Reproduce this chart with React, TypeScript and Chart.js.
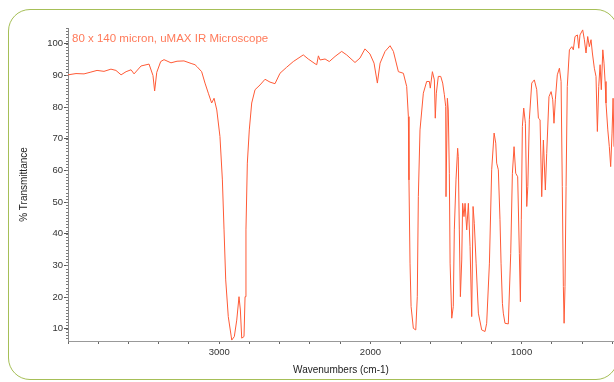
import { useEffect, useRef } from "react";
import { Chart, registerables } from "chart.js";

Chart.register(...registerables);

const chartTitle = "80 x 140 micron, uMAX IR Microscope";
const xAxisTitle = "Wavenumbers (cm-1)";
const yAxisTitle = "% Transmittance";
const xTickLabels = [1000, 2000, 3000];
const yTickLabels = [10, 20, 30, 40, 50, 60, 70, 80, 90, 100];

const wavenumbers = [
  4000, 3947, 3894, 3854, 3808, 3762, 3716, 3683, 3649, 3616, 3583, 3563, 3517, 3464, 3438, 3427, 3413, 3387, 3365, 3319,
  3279, 3233, 3186, 3160, 3147, 3116, 3094, 3072, 3050, 3034, 3016, 2995, 2979, 2968, 2957, 2940, 2917, 2900, 2884, 2869,
  2860, 2851, 2836, 2829, 2823, 2814, 2801, 2785, 2763, 2730, 2697, 2664, 2631, 2598, 2554, 2510, 2444, 2411, 2366, 2355,
  2344, 2333, 2300, 2272, 2234, 2190, 2157, 2102, 2069, 2036, 2003, 1976, 1954, 1936, 1903, 1870, 1848, 1815, 1782, 1760,
  1749, 1745, 1738, 1731, 1716, 1700, 1690, 1683, 1672, 1650, 1628, 1610, 1604, 1590, 1577, 1571, 1564, 1551, 1535, 1522,
  1511, 1502, 1500, 1491, 1485, 1478, 1473, 1462, 1452, 1445, 1434, 1423, 1419, 1412, 1405, 1396, 1390, 1381, 1374, 1363,
  1352, 1341, 1330, 1321, 1313, 1301, 1286, 1264, 1242, 1231, 1213, 1198, 1182, 1171, 1165, 1154, 1143, 1136, 1127, 1121,
  1110, 1088, 1072, 1061, 1050, 1039, 1026, 1015, 1008, 1002, 995, 986, 975, 966, 959, 949, 933, 916, 900, 889,
  878, 867, 856, 843, 834, 819, 805, 794, 786, 777, 764, 750, 739, 731, 724, 719, 713, 706, 698, 684,
  668, 658, 647, 631, 622, 614, 596, 585, 574, 563, 552, 541, 532, 519, 508, 499, 490, 481, 473, 463,
  455, 448, 442, 430, 420, 411, 402, 395, 389,
];

const transmittance = [
  90.2, 90.6, 90.5, 91.0, 91.6, 91.3, 92.0, 91.6, 90.2, 91.2, 91.8, 90.5, 93.0, 93.6, 90.0, 85.1, 91.0, 94.4, 95.0, 94.0,
  94.5, 94.6, 93.8, 93.4, 92.8, 91.2, 87.6, 84.4, 81.3, 82.8, 79.1, 70.7, 57.0, 41.2, 25.4, 13.8, 6.4, 7.5, 12.7, 20.1,
  15.9, 7.0, 7.5, 20.1, 41.2, 62.3, 72.8, 81.3, 85.5, 87.0, 88.8, 87.9, 87.4, 90.7, 92.6, 94.4, 96.5, 95.2, 93.7, 93.4,
  96.2, 94.9, 95.2, 94.4, 96.0, 97.6, 96.5, 94.1, 95.5, 98.4, 96.8, 93.9, 87.6, 93.9, 97.6, 99.4, 97.6, 91.2, 90.7, 86.5,
  77.0, 57.0, 30.7, 17.0, 10.1, 9.6, 20.1, 51.7, 72.8, 84.4, 88.1, 88.1, 86.0, 91.2, 88.6, 76.5, 84.4, 89.7, 89.7, 87.6,
  83.9, 80.2, 51.7, 82.8, 79.1, 59.1, 30.7, 13.3, 17.0, 41.2, 57.0, 67.0, 64.4, 41.2, 20.1, 31.7, 49.6, 45.4, 49.6, 41.2,
  49.6, 35.9, 13.8, 48.6, 43.3, 30.7, 14.9, 9.6, 9.1, 11.7, 30.7, 60.2, 71.8, 68.6, 62.3, 60.2, 44.4, 30.7, 18.0, 14.9,
  11.7, 11.5, 33.8, 59.1, 67.5, 59.1, 58.0, 33.8, 18.5, 44.4, 73.9, 79.7, 74.9, 48.6, 54.9, 76.0, 87.6, 88.6, 85.5, 76.5,
  76.0, 51.7, 69.6, 53.8, 65.4, 83.3, 84.9, 82.3, 74.9, 82.3, 90.2, 92.3, 88.1, 54.9, 23.3, 11.7, 23.3, 54.9, 86.5, 98.1,
  99.1, 98.1, 102.3, 102.8, 98.6, 102.8, 104.4, 101.3, 97.1, 102.3, 99.1, 101.3, 97.1, 92.3, 89.7, 72.3, 86.5, 93.4, 85.5, 98.1,
  93.9, 88.1, 81.3, 72.8, 67.5, 61.2, 71.8, 82.8, 67.5,
];

const FONT = "'Liberation Sans', Arial, sans-serif";

export default function App() {
  const canvasRef = useRef<HTMLCanvasElement>(null);

  useEffect(() => {
    if (!canvasRef.current) return;

    const minorTicks = {
      id: "minorTicks",
      afterDraw(chart: any) {
        const y = chart.scales.y;
        const ctx = chart.ctx;
        const left = chart.chartArea.left;
        ctx.save();
        ctx.strokeStyle = "#7a7a7a";
        ctx.lineWidth = 1;
        ctx.beginPath();
        for (let v = Math.ceil(y.min); v <= Math.floor(y.max); v++) {
          const py = Math.round(y.getPixelForValue(v)) + 0.5;
          ctx.moveTo(left - 2, py);
          ctx.lineTo(left, py);
        }
        ctx.stroke();
        ctx.restore();
      },
    };

    const chart = new Chart(canvasRef.current, {
      type: "line",
      data: {
        datasets: [
          {
            data: wavenumbers.map((w, i) => ({ x: w, y: transmittance[i] })),
            borderColor: "#ff5a36",
            borderWidth: 1,
            pointRadius: 0,
            tension: 0,
            fill: false,
          },
        ],
      },
      options: {
        animation: false,
        responsive: false,
        maintainAspectRatio: false,
        layout: { padding: { top: 28, left: 0, right: 0, bottom: 0 } },
        plugins: {
          legend: { display: false },
          tooltip: { enabled: false },
          title: { display: false },
        },
        scales: {
          x: {
            type: "linear",
            reverse: true,
            min: 389,
            max: 4000,
            afterBuildTicks: (s: any) => {
              const t = [];
              for (let v = 400; v <= 4000; v += 200) t.push({ value: v });
              s.ticks = t;
            },
            afterFit: (s: any) => {
              s.height = 41;
            },
            ticks: {
              autoSkip: false,
              maxRotation: 0,
              padding: 3,
              color: "#333",
              font: { family: FONT, size: 9.5 },
              callback: (v: any) => (xTickLabels.includes(Number(v)) ? String(v) : ""),
            },
            grid: { drawOnChartArea: false, tickLength: 3, color: "#666" },
            border: { color: "#999", width: 1 },
            title: {
              display: true,
              text: xAxisTitle,
              color: "#222",
              font: { family: FONT, size: 10 },
              padding: { top: 0, bottom: 6 },
            },
          },
          y: {
            type: "linear",
            min: 6.1,
            max: 105,
            afterBuildTicks: (s: any) => {
              s.ticks = yTickLabels.map((v) => ({ value: v }));
            },
            afterFit: (s: any) => {
              s.width = 68;
            },
            ticks: {
              autoSkip: false,
              padding: 1,
              color: "#333",
              font: { family: FONT, size: 9.5 },
              callback: (v: any) => String(v),
            },
            grid: { drawOnChartArea: false, tickLength: 4, color: "#555" },
            border: { color: "#888", width: 1 },
            title: {
              display: true,
              text: yAxisTitle,
              color: "#222",
              font: { family: FONT, size: 10 },
              padding: { top: 18, bottom: 0 },
            },
          },
        },
      },
      plugins: [minorTicks],
    } as any);

    return () => chart.destroy();
  }, []);

  return (
    <div
      style={{
        position: "fixed",
        left: 0,
        top: 0,
        width: 614,
        height: 382,
        overflow: "hidden",
        background: "#fff",
      }}
    >
      <div
        style={{
          position: "absolute",
          left: 8,
          top: 9,
          width: 610,
          height: 371,
          boxSizing: "border-box",
          border: "1.5px solid #a6bf57",
          borderRadius: 22,
        }}
      />
      <canvas
        ref={canvasRef}
        width={614}
        height={382}
        style={{ position: "absolute", left: 0, top: 0, display: "block" }}
      />
      <div
        style={{
          position: "absolute",
          left: 72,
          top: 32,
          fontFamily: FONT,
          fontSize: 11.5,
          lineHeight: "13px",
          color: "#ff7a5a",
          whiteSpace: "nowrap",
        }}
      >
        {chartTitle}
      </div>
    </div>
  );
}
